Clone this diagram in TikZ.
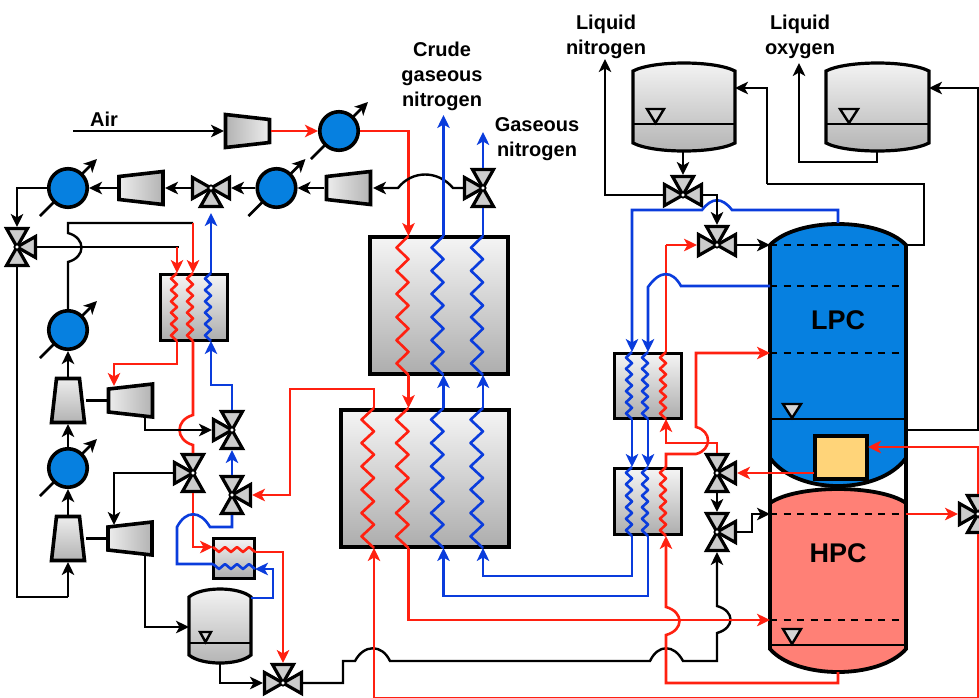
\documentclass[tikz,border=0pt]{standalone}
\usepackage{fontspec}
\setmainfont{Liberation Sans}
\usetikzlibrary{calc, arrows.meta}

\definecolor{flowred}{HTML}{FF2010}
\definecolor{flowblue}{HTML}{0A3CDC}
\definecolor{colblue}{HTML}{0680E0}
\definecolor{colsalmon}{HTML}{FF8076}
\definecolor{reboil}{HTML}{FFD479}

\tikzset{
  portbox/.style={inner sep=0pt, outer sep=0pt},
  blackline/.style={draw=black, line width=2.4pt},
  redline/.style={draw=flowred, line width=2.6pt},
  blueline/.style={draw=flowblue, line width=2.6pt},
  traydash/.style={draw=black, line width=2.4pt, dash pattern=on 7pt off 6.5pt},
  hxbox/.style={draw=black, line width=#1, top color=black!4, bottom color=black!32, inner sep=0pt},
  hxbox/.default=3pt,
  unitline/.style={draw=black, line width=3.6pt, line join=miter},
  darkleft/.style={left color=black!30, right color=black!7},
  darkright/.style={left color=black!7, right color=black!30},
  darkbottom/.style={top color=black!7, bottom color=black!30},
  tankfill/.style={draw=black, line width=3.2pt, top color=black!4, bottom color=black!30},
  valveside/.style={draw=black, line width=3.2pt, fill=black!20, line join=miter},
  gaugemark/.style={draw=black, line width=2.4pt, fill=black!17, line join=miter},
  label/.style={font=\bfseries\fontsize{20}{25}\selectfont, align=center, inner sep=0pt},
  collabel/.style={font=\bfseries\fontsize{27}{30}\selectfont, inner sep=0pt},
}

% three-way valve: name, x, y, directions of the ports
\newcommand{\valve}[4]{%
  \foreach \dirn in {#4}
    \draw[valveside, shift={(#2,#3)}, rotate=\dirn] (0,0) -- (18.5,10.5) -- (18.5,-10.5) -- cycle;
  \draw[draw=black, line width=1.8pt, fill=white] (#2,#3) circle (2.6pt);
  \node[portbox, minimum size=40pt] (#1) at (#2,#3) {};
}
% compressor: name, x, y, angle, shading, box width, box height
\newcommand{\compressor}[7]{%
  \draw[unitline, #5, shift={(#2,#3)}, rotate=#4]
    (-22,-16.5) -- (22,-11.5) -- (22,11.5) -- (-22,16.5) -- cycle;
  \node[portbox, minimum width=#6pt, minimum height=#7pt] (#1) at (#2,#3) {};
}
% cooler: name, x, y
\newcommand{\cooler}[3]{%
  \draw[blackline, line width=2.8pt, ->] (#2-28,#3+28) -- (#2+29,#3-29);
  \node[circle, draw=black, line width=3.6pt, fill=colblue, minimum size=38.5pt, inner sep=0pt] (#1) at (#2,#3) {};
}
% vertical coil: name, style, x, top, bottom, half steps, amplitude
\newcommand{\coil}[7]{%
  \draw[#2, line join=round, domain=0:#6, samples=#6+1, variable=\k]
    plot ({#3-#7*mod(round(\k),2)},{#4+(#5-#4)*\k/#6});
  \coordinate (#1-t) at (#3,#4);
  \coordinate (#1-b) at (#3,#5);
}
% horizontal coil: name, style, y, left, right, half steps, amplitude
\newcommand{\coilh}[7]{%
  \draw[#2, line join=round, domain=0:#6, samples=#6+1, variable=\k]
    plot ({#4+(#5-#4)*\k/#6},{#3+#7*mod(round(\k),2)});
  \coordinate (#1-l) at (#4,#3);
  \coordinate (#1-r) at (#5,#3+#7);
}
% vessel: name, left, right, top, shoulder, hip, bottom, style
\newcommand{\vessel}[8]{%
  \pgfmathsetmacro{\vxa}{#2+0.2*(#3-#2)}
  \pgfmathsetmacro{\vxb}{#3-0.2*(#3-#2)}
  \pgfmathsetmacro{\vyu}{#5-(#5-#4)*4/3}
  \pgfmathsetmacro{\vyd}{#6+(#7-#6)*4/3}
  \draw[#8] (#2,#5) .. controls (\vxa,\vyu) and (\vxb,\vyu) .. (#3,#5) -- (#3,#6)
    .. controls (\vxb,\vyd) and (\vxa,\vyd) .. (#2,#6) -- cycle;
  \pgfmathsetmacro{\vw}{#3-#2}
  \pgfmathsetmacro{\vh}{#7-#4}
  \node[portbox, minimum width=\vw pt, minimum height=\vh pt] (#1) at ({(#2+#3)/2},{(#4+#7)/2}) {};
}

\begin{document}
\begin{tikzpicture}[x=1pt, y=-1pt, >={Stealth[length=13pt, width=12.5pt, inset=3.5pt]}]
  \path[use as bounding box, clip] (0,0) rectangle (979,697);

  % column walls
  \draw[unitline] (770,245) -- (770,649);
  \draw[unitline] (906,245) -- (906,649);
  % low pressure column
  \vessel{lpcshell}{770}{906}{224}{245}{458}{486}{draw=black, line width=3.8pt, fill=colblue}
  \draw[blackline] (771,419) -- (905,419);
  \draw[gaugemark] (792,418) -- (783,404) -- (801,404) -- cycle;
  \node[collabel] (lpc) at (838,320) {LPC};
  % high pressure column
  \vessel{hpcshell}{770}{906}{489}{503}{649}{672}{draw=black, line width=3.8pt, fill=colsalmon}
  \draw[blackline] (771,645) -- (905,645);
  \draw[gaugemark] (792,644) -- (783,629) -- (801,629) -- cycle;
  \node[collabel] (hpc) at (838,553) {HPC};
  % trays
  \foreach \nm/\ty in {ta/245, tb/286, tc/353, td/514, te/620} {
    \coordinate (\nm-w) at (770,\ty);
    \coordinate (\nm-e) at (906,\ty);
    \draw[traydash] (\nm-w) -- (\nm-e);
  }
  % reboiler box
  \node[draw=black, line width=3.2pt, fill=reboil, minimum width=52pt, minimum height=43pt, inner sep=0pt, outer sep=0pt] (rebox) at (841,457.5) {};
  \coordinate (reboutl) at (814,473);
  \coordinate (rebinr) at (868,447);
  \coordinate (lpcside) at (906,430);
  \coordinate (lpctop) at (838,223);
  \coordinate (hpcbot) at (838,672);

  % storage tanks
  \vessel{tkn}{633}{735}{63}{71}{143}{151}{tankfill}
  \draw[blackline] (634,124) -- (734,124);
  \draw[gaugemark] (655.5,123) -- (647,109) -- (664,109) -- cycle;
  \vessel{tko}{826}{929}{63}{71}{143}{151}{tankfill}
  \draw[blackline] (827,124) -- (928,124);
  \draw[gaugemark] (849,123) -- (840,109) -- (858,109) -- cycle;
  \vessel{tks}{189}{251}{589}{597}{655}{663}{tankfill}
  \draw[blackline] (190,643) -- (250,643);
  \draw[gaugemark] (205.5,642) -- (200,632) -- (211,632) -- cycle;

  % heat exchangers
  \node[hxbox=4pt, minimum width=138pt, minimum height=137pt] (hxa) at (438.5,305) {};
  \node[hxbox=4pt, minimum width=168pt, minimum height=137pt] (hxb) at (424.5,478) {};
  \node[hxbox, minimum width=67pt, minimum height=66pt] (hxc) at (193.5,307) {};
  \node[hxbox, minimum width=67pt, minimum height=65pt] (hxd) at (648,385.5) {};
  \node[hxbox, minimum width=67pt, minimum height=66pt] (hxe) at (648,501.5) {};
  \node[hxbox, minimum width=41pt, minimum height=40pt] (hxf) at (233.5,558) {};
  % coils
  \coil{ha1}{redline}{408.5}{236}{375}{12}{12}
  \coil{ha2}{blueline}{443.5}{236}{375}{12}{12}
  \coil{ha3}{blueline}{483}{236}{375}{12}{12}
  \coil{hb1}{redline}{374}{408}{548}{12}{12.5}
  \coil{hb2}{redline}{408.5}{408}{548}{12}{12.5}
  \coil{hb3}{blueline}{443.5}{408}{548}{12}{12.5}
  \coil{hb4}{blueline}{483}{408}{548}{12}{12.5}
  \coil{hc1}{redline}{177}{273}{341}{12}{6}
  \coil{hc2}{redline}{193}{273}{341}{12}{6}
  \coil{hc3}{blueline}{211}{273}{341}{12}{6}
  \coil{hd1}{blueline}{632}{352}{419}{12}{6}
  \coil{hd2}{blueline}{648}{352}{419}{12}{6}
  \coil{hd3}{redline}{666}{352}{419}{12}{6}
  \coil{he1}{blueline}{632}{467}{536}{12}{6}
  \coil{he2}{blueline}{648}{467}{536}{12}{6}
  \coil{he3}{redline}{666}{467}{536}{12}{6}
  \coilh{hf1}{redline}{547}{213}{255}{7}{5}
  \coilh{hf2}{blueline}{564}{213}{255}{7}{5}

  % compressors
  \compressor{ca}{247.5}{131}{0}{darkleft}{47}{36}
  \compressor{cb}{348.5}{188}{180}{darkright}{49}{36}
  \compressor{cc}{141}{188}{180}{darkright}{48}{36}
  \compressor{cd}{68}{400.5}{90}{darkbottom}{36}{47}
  \compressor{ce}{130.5}{400.5}{180}{darkright}{47}{36}
  \compressor{cf}{68}{538.5}{90}{darkbottom}{36}{47}
  \compressor{cg}{130}{538.5}{180}{darkright}{49}{36}
  \draw[unitline] (cd.east) -- (ce.west);
  \draw[unitline] (cf.east) -- (cg.west);

  % coolers
  \cooler{cla}{339}{131}
  \cooler{clb}{276.5}{188}
  \cooler{clc}{68}{188}
  \cooler{cld}{68}{330}
  \cooler{cle}{68}{468}

  % valves
  \valve{va}{211}{188}{0,180,270}
  \valve{vb}{17}{247}{0,90,270}
  \valve{vc}{483}{188}{90,180,270}
  \valve{vd}{683}{195}{0,90,180}
  \valve{ve}{717}{245}{0,90,180}
  \valve{vf}{232}{430}{90,180,270}
  \valve{vg}{193}{473}{90,180,270}
  \valve{vh}{232}{495}{0,90,270}
  \valve{vi}{283}{683}{0,90,180}
  \valve{vj}{717}{473}{0,90,270}
  \valve{vk}{717}{532}{0,90,270}
  \valve{vl}{978}{514}{90,180,270}

  % labels
  \node[label] (airtxt) at (104,119) {Air};
  \node[label] (crude) at (442,76) {Crude\\gaseous\\nitrogen};
  \node[label] (gasn) at (537,139) {Gaseous\\nitrogen};
  \node[label] (liqn) at (606,36.5) {Liquid\\nitrogen};
  \node[label] (liqo) at (800,36.5) {Liquid\\oxygen};
  \coordinate (airin) at (73,131);
  \coordinate (gnout) at (443.5,115);
  \coordinate (gsout) at (483,132);
  \coordinate (lnout) at (605,59);
  \coordinate (loout) at (799,63);

  % air train, top row
  \draw[blackline, ->] (airin) -- (ca.west);
  \draw[redline, ->] (ca.east) -- (cla.west);
  \draw[redline, ->] (cla.east) -| (ha1-t);
  \draw[redline, ->] (ha1-b) -- (hb2-t);
  \draw[blackline, ->] (vc.west) -- (453,188) .. controls (438,170) and (412,170) .. (398,188) -- (cb.east);
  \draw[blackline, ->] (cb.west) -- (clb.east);
  \draw[blackline, ->] (clb.west) -- (va.east);
  \draw[blackline, ->] (va.west) -- (cc.east);
  \draw[blackline, ->] (cc.west) -- (clc.east);
  \draw[blackline, ->] (clc.west) -| (vb.north);
  % nitrogen outlets
  \draw[blueline, ->] (ha2-t) -- (gnout);
  \draw[blueline] (ha3-t) -- (vc.south);
  \draw[blueline, ->] (vc.north) -- (gsout);
  \draw[blueline, ->] (hb3-t) -- (ha2-b);
  \draw[blueline, ->] (hb4-t) -- (ha3-b);

  % left train
  \draw[blackline] (vb.south) -- (17,597) -- (68,597);
  \draw[blackline, ->] (68,597) -- (cf.south);
  \draw[blackline, ->] (cf.north) -- (cle.south);
  \draw[blackline, ->] (cle.north) -- (cd.south);
  \draw[blackline, ->] (cd.north) -- (cld.south);
  \draw[blackline] (cld.north) -- (68,262) .. controls (86,257) and (86,238) .. (68,233) -- (68,223) -- (193,223);
  \draw[blackline] (vb.east) -- (179,247);
  \draw[redline, ->] (177,247) -- (hc1-t);
  \draw[redline, ->] (193,223) -- (hc2-t);
  \draw[blueline, ->] (hc3-t) -- (211,213);
  \coordinate (cetop) at (114,386);
  \coordinate (cgtop) at (114,525);
  \coordinate (cebot) at (145,416);
  \coordinate (cgbot) at (145,556);
  \draw[redline, ->] (hc1-b) -- (177,364) -- (114,364) -- (cetop);
  \draw[redline] (hc2-b) -- (193,415) .. controls (175,420) and (175,440) .. (193,445) -- (vg.north);
  \draw[blackline, ->] (cebot) -- (145,430) -- (vf.west);
  \draw[blackline, ->] (vg.west) -| (cgtop);
  \draw[blueline, ->] (vf.north) -- (232,385) -- (211,385) -- (hc3-b);
  \draw[blueline, ->] (vh.north) -- (vf.south);
  \draw[redline, ->] (hb1-t) -- (374,389) -- (290,389) -- (290,495) -- (vh.east);
  \draw[redline, ->] (vg.south) -- (193,547) -- (hf1-l);
  \draw[blueline] (vh.south) -- (232,527) -- (210,527) .. controls (200,510) and (186,510) .. (177,527) -- (177,564) -- (hf2-l);
  \draw[redline, ->] (hf1-r) -- (283,552) -- (vi.north);
  \coordinate (tksout) at (251,598);
  \coordinate (tksin) at (189,627);
  \coordinate (tksbot) at (220,663);
  \draw[blueline, ->] (tksout) -- (273,598) -- (273,569) -- (hf2-r);
  \draw[blackline, ->] (cgbot) |- (tksin);
  \draw[blackline, ->] (tksbot) |- (vi.west);
  \draw[blackline, ->] (vi.east) -- (343,683) -- (343,661) -- (355,661) .. controls (364,644) and (382,644) .. (390,661)
    -- (650,661) .. controls (658,644) and (674,644) .. (683,661) -- (717,661) -- (717,633)
    .. controls (735,628) and (735,611) .. (717,606) -- (vk.south);

  % feed to the high pressure column
  \draw[redline, ->] (hb2-b) -- (408.5,620) -- (te-w);
  \draw[redline, ->] (hpcbot) -- (838,683) -- (666,683) -- (666,635) .. controls (684,630) and (684,612) .. (666,607) -- (he3-b);
  \draw[blueline, ->] (he1-b) -- (632,576) -- (483,576) -- (hb4-b);
  \draw[blueline, ->] (he2-b) -- (648,596) -- (443.5,596) -- (hb3-b);
  \draw[redline, ->] (vl.south) -- (978,698.4) -- (374,698.4) -- (hb1-b);
  \draw[redline, ->] (vl.north) -- (978,447) -- (rebinr);
  \draw[redline, ->] (td-e) -- (vl.west);

  % right side
  \draw[redline, ->] (reboutl) -- (vj.east);
  \draw[blackline, ->] (vj.south) -- (vk.north);
  \draw[blackline, ->] (vk.east) -- (752,532) -- (752,514) -- (td-w);
  \draw[redline, ->] (vj.north) -- (717,443) -- (666,443) -- (hd3-b);
  \draw[redline, ->] (he3-t) -- (666,454) -- (696,454) .. controls (712,450) and (712,431) .. (696,427) -- (696,353) -- (tc-w);
  \draw[blueline, ->] (hd1-b) -- (he1-t);
  \draw[blueline, ->] (hd2-b) -- (he2-t);
  \draw[redline] (hd3-t) -- (666,245);
  \draw[redline, ->] (666,245) -- (ve.west);
  \draw[blackline, ->] (ve.east) -- (ta-w);
  \draw[blueline, ->] (lpctop) -- (838,210) -- (732,210) .. controls (722,197) and (712,197) .. (702,210) -- (632,210) -- (hd1-t);
  \draw[blueline, ->] (tb-w) -- (681,286) .. controls (672,270) and (660,270) .. (648,287) -- (hd2-t);

  % tanks and products
  \coordinate (tknin) at (735,88);
  \coordinate (tkoin) at (929,88);
  \coordinate (tkobot) at (877,151);
  \draw[blackline, ->] (tkn.south -| vd.north) -- (vd.north);
  \draw[blackline, ->] (vd.west) -| (lnout);
  \draw[blackline, ->] (vd.east) -| (ve.north);
  \draw[blackline] (ta-e) -- (924,245) -- (924,184) -- (767,184);
  \draw[blackline, ->] (767,184) -- (767,88) -- (tknin);
  \draw[blackline, ->] (lpcside) -- (978,430) -- (978,88) -- (tkoin);
  \draw[blackline, ->] (tkobot) -- (877,162) -- (799,162) -- (loout);
\end{tikzpicture}
\end{document}
